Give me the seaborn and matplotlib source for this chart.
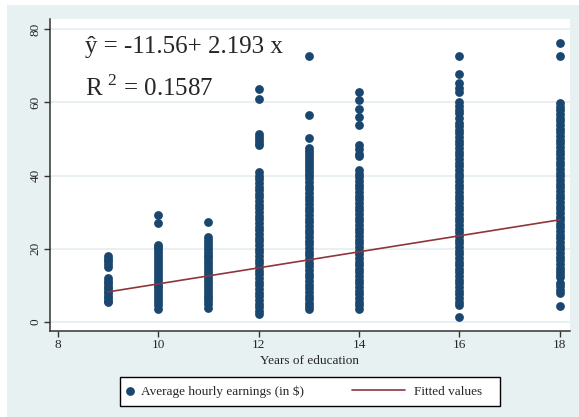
import numpy as np
import pandas as pd
import matplotlib
matplotlib.use("Agg")
import matplotlib.pyplot as plt
from matplotlib.patches import Rectangle
import seaborn as sns

# average hourly earnings, one list per years-of-education column
earn_9 = [18.0, 17.3, 16.6, 15.9, 15.0, 12.0, 11.3, 10.6, 9.9, 9.2, 8.5, 7.8, 7.1, 6.4, 5.8, 5.5]
earn_10 = [29.2, 27.1, 21.0, 20.4, 19.8, 19.0, 18.2, 17.4, 16.6, 15.8, 15.0, 14.2, 13.4, 12.6,
           11.8, 11.0, 10.2, 9.4, 8.6, 7.8, 7.0, 6.2, 5.4, 4.6, 3.5]
earn_11 = [27.4, 23.2, 22.4, 21.6, 20.8, 20.0, 19.2, 18.4, 17.6, 16.8, 16.0, 15.2, 14.4, 13.6,
           12.8, 12.0, 11.2, 10.4, 9.6, 8.8, 8.0, 7.2, 6.4, 5.6, 4.8, 3.9]
earn_12 = [63.7, 60.9, 51.4, 50.6, 49.8, 49.0, 48.4, 41.0, 40.0, 39.0, 38.0, 37.0, 36.0, 35.0,
           34.0, 33.0, 32.0, 31.0, 30.0, 29.0, 28.0, 27.0, 26.0, 25.0, 24.0, 23.0, 22.0, 21.0,
           20.0, 19.0, 18.0, 17.0, 16.0, 15.0, 14.0, 13.0, 12.0, 11.0, 10.0, 9.0, 8.0, 7.0,
           6.0, 5.0, 4.0, 3.0, 2.2]
earn_13 = [72.7, 56.6, 50.2, 47.5, 46.7, 45.9, 45.1, 44.3, 43.5, 42.7, 41.9, 41.1, 40.2, 39.2,
           38.2, 37.2, 36.2, 35.2, 34.2, 33.2, 32.2, 31.2, 30.2, 29.2, 28.2, 27.2, 26.2, 25.2,
           24.2, 23.2, 22.2, 21.2, 20.2, 19.2, 18.2, 17.2, 16.2, 15.2, 14.2, 13.2, 12.2, 11.2,
           10.2, 9.2, 8.2, 7.2, 6.2, 5.2, 4.3, 3.6]
earn_14 = [62.8, 60.7, 58.2, 56.1, 53.7, 48.4, 47.2, 46.0, 45.4, 41.5, 40.5, 39.5, 38.5, 37.5,
           36.5, 35.5, 34.5, 33.5, 32.5, 31.5, 30.5, 29.5, 28.5, 27.5, 26.5, 25.5, 24.5, 23.5,
           22.5, 21.5, 20.5, 19.5, 18.5, 17.5, 16.5, 15.5, 14.5, 13.5, 12.5, 11.5, 10.5, 9.5,
           8.5, 7.5, 6.5, 5.5, 4.5, 3.5]
earn_16 = [72.7, 67.8, 65.2, 64.0, 62.8, 60.0, 59.0, 58.0, 57.2, 55.8, 54.5, 53.5, 52.5, 51.5,
           50.5, 49.5, 48.5, 47.5, 46.5, 45.5, 44.5, 43.5, 42.5, 41.5, 40.5, 39.5, 38.5, 37.5,
           36.5, 35.5, 34.5, 33.5, 32.5, 31.5, 30.5, 29.5, 28.5, 27.5, 26.5, 25.5, 24.5, 23.5,
           22.5, 21.5, 20.5, 19.5, 18.5, 17.5, 16.5, 15.5, 14.5, 13.5, 12.5, 11.5, 10.5, 9.5,
           8.5, 7.5, 6.5, 5.5, 4.6, 1.2]
earn_18 = [76.2, 72.7, 59.8, 58.8, 57.8, 56.8, 55.8, 54.8, 53.8, 52.8, 51.8, 50.8, 49.8, 48.8,
           47.8, 46.8, 45.8, 44.8, 43.8, 42.8, 41.8, 40.8, 39.8, 38.8, 37.8, 36.8, 35.8, 34.8,
           33.8, 32.8, 31.8, 30.8, 29.8, 28.8, 27.8, 26.8, 25.8, 24.8, 23.8, 22.8, 21.8, 20.8,
           19.8, 18.8, 17.8, 16.8, 15.8, 14.8, 13.8, 13.0, 12.4, 10.7, 9.8, 8.8, 7.9, 4.2]

years = [9, 10, 11, 12, 13, 14, 16, 18]
earnings = [earn_9, earn_10, earn_11, earn_12, earn_13, earn_14, earn_16, earn_18]

# OLS estimates printed on the chart
intercept = -11.56
slope = 2.193
r_squared = 0.1587

df = pd.DataFrame({
    "educ": [yr for yr, vals in zip(years, earnings) for _ in vals],
    "ahe": [v for vals in earnings for v in vals],
})
fit = pd.DataFrame({"educ": [min(years), max(years)]})
fit["fitted"] = intercept + slope * fit["educ"]

navy = "#1a476f"
maroon = "#90353b"
bg = "#e8f1f2"

sns.set_style("ticks")
plt.rcParams["font.family"] = ["Liberation Serif", "DejaVu Serif"]
plt.rcParams["mathtext.fontset"] = "custom"
plt.rcParams["mathtext.rm"] = "Liberation Serif"

W, H = 579, 417
fig = plt.figure(figsize=(5.79, 4.17), dpi=100, facecolor="white")
fig.add_artist(Rectangle((7 / W, 0), 1, 1 - 5 / H, transform=fig.transFigure,
                         facecolor=bg, edgecolor="none", zorder=-1))

ax = fig.add_axes([50 / W, 1 - 331 / H, 520 / W, 312 / H])
sns.scatterplot(data=df, x="educ", y="ahe", s=40, color=navy, linewidth=0,
                ax=ax, label="Average hourly earnings (in \\$)")
sns.lineplot(data=fit, x="educ", y="fitted", color=maroon, linewidth=1.2,
             ax=ax, label="Fitted values")

ax.set_xlim(7.85, 18.2)
ax.set_ylim(-2.5, 82.8)
ax.set_xticks([8, 10, 12, 14, 16, 18])
ax.set_yticks([0, 20, 40, 60, 80])
ax.yaxis.grid(True, color="#e4eef0", linewidth=1.2)
ax.set_axisbelow(True)
for side in ["top", "right"]:
    ax.spines[side].set_visible(False)
for side in ["left", "bottom"]:
    ax.spines[side].set_color("#333333")
    ax.spines[side].set_linewidth(1.1)
ax.tick_params(axis="both", direction="out", length=4, width=1, color="#333333",
               labelsize=9.5, pad=2)
plt.setp(ax.get_yticklabels(), rotation=90, va="center")
ax.set_xlabel("Years of education", fontsize=9.5, labelpad=3)
ax.set_ylabel("")

ax.text(0.067, 0.91, f"ŷ = {intercept}+ {slope} x", transform=ax.transAxes,
        fontsize=18, va="center", ha="left")
ax.text(0.067, 0.778, "R$^{\\ 2}$" + f" = {r_squared}", transform=ax.transAxes,
        fontsize=18, va="center", ha="left")

handles, labels = ax.get_legend_handles_labels()
if ax.get_legend() is not None:
    ax.get_legend().remove()

fig.add_artist(Rectangle((120 / W, 1 - 406 / H), 380 / W, 29 / H, transform=fig.transFigure,
                         facecolor="white", edgecolor="black", linewidth=1, zorder=1))
ly = 1 - 391.5 / H
fig.legend(handles=handles[:1], labels=labels[:1], loc="center left",
           bbox_to_anchor=(113 / W, ly), frameon=False, handlelength=0.8,
           handletextpad=0.4, fontsize=9.5)
fig.legend(handles=handles[1:], labels=labels[1:], loc="center left",
           bbox_to_anchor=(340 / W, ly), frameon=False, handlelength=4.0,
           handletextpad=0.7, fontsize=9.5)

fig.savefig("out.png", dpi=100)
